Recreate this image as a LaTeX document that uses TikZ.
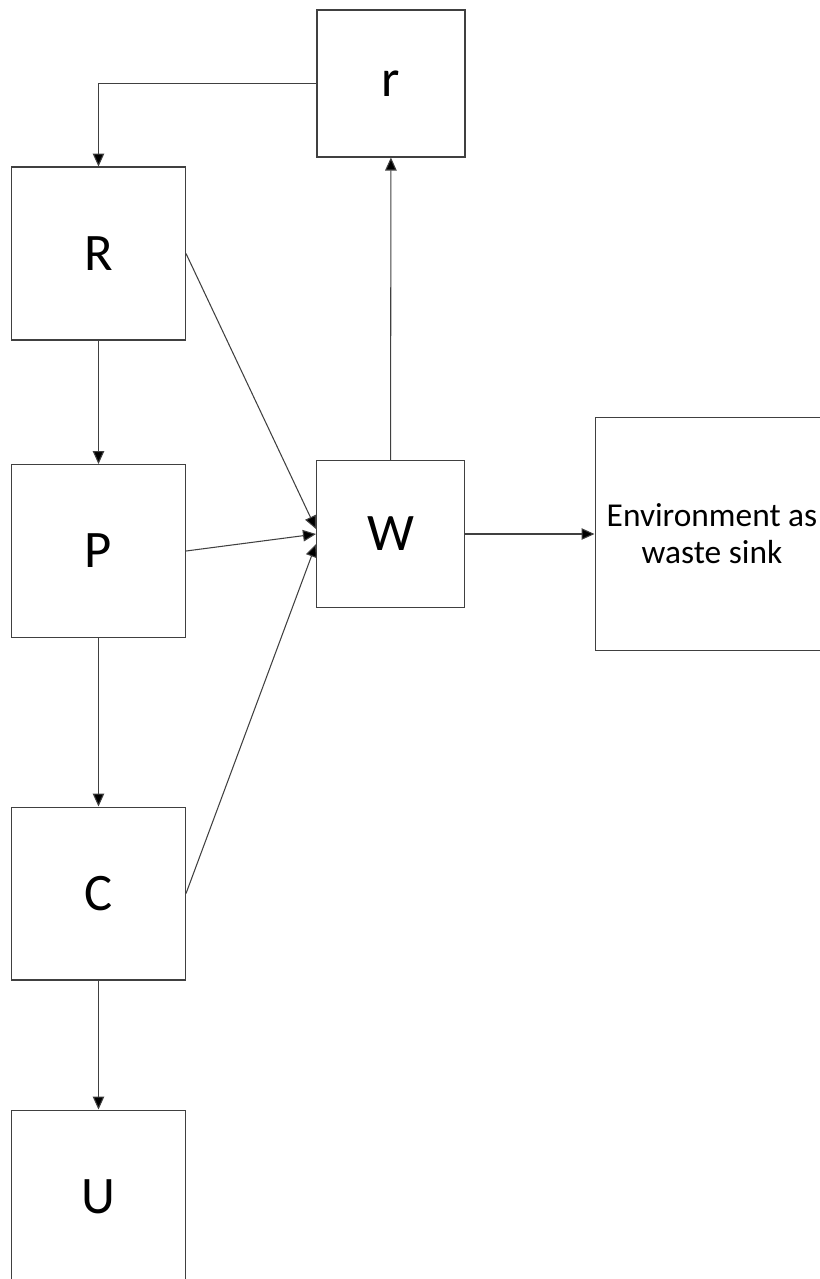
\documentclass[tikz,border=0pt]{standalone}
\usepackage{fontspec}
\setmainfont{Carlito}
\usetikzlibrary{arrows.meta}

\begin{document}
\begin{tikzpicture}[x=0.02cm, y=-0.02cm, line width=0.6pt,
	box/.style = {draw=black!75, rectangle, inner sep=0pt, font=\fontsize{30}{34}\selectfont},
	big/.style = {box, minimum width=3.48cm, minimum height=3.46cm},
	small/.style = {box, minimum width=2.96cm, minimum height=2.94cm},
	sink/.style = {box, minimum width=4.68cm, minimum height=4.66cm, align=center, font=\fontsize{19}{21}\selectfont},
	arr/.style = {draw=black!75, -{Triangle[length=2.6mm, width=2.3mm, fill=black]}}]
	\useasboundingbox (0,0) rectangle (820,1279);
	\clip (0,0) rectangle (820,1279);
	\node[small] (r) at (391,83.5) {r};
	\node[big] (R) at (98.5,253.5) {R};
	\node[big] (P) at (98.5,551) {P};
	\node[big] (C) at (98.5,893.5) {C};
	\node[big] (U) at (98.5,1196.5) {U};
	\node[small] (W) at (390.5,534) {W};
	\node[sink] (E) at (712,534) {Environment as\\waste sink};
	\draw[arr] (r.west) -| (R.north);
	\draw[arr] (R) -- (P);
	\draw[arr] (P) -- (C);
	\draw[arr] (C) -- (U);
	\draw[arr] (R.east) -- ([yshift=0.1cm]W.west);
	\draw[arr] (P.east) -- (W.west);
	\draw[arr] (C.east) -- ([yshift=-0.2cm]W.west);
	\draw[arr] (W) -- (r);
	\draw[arr] (W.east) -- (E.west |- W.east);
\end{tikzpicture}
\end{document}
